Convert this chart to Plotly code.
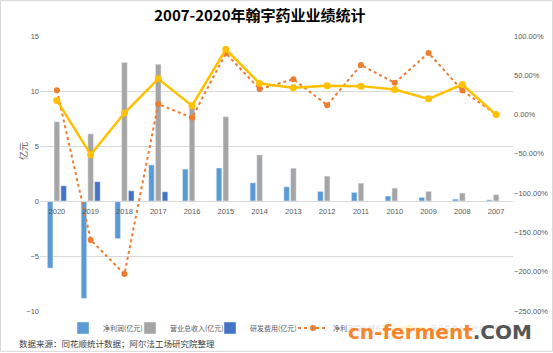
import plotly.graph_objects as go

years = ["2020", "2019", "2018", "2017", "2016", "2015", "2014",
         "2013", "2012", "2011", "2010", "2009", "2008", "2007"]
net_profit = [-6.1, -8.85, -3.42, 3.28, 2.9, 3.0, 1.65, 1.29, 0.87, 0.78, 0.45, 0.33, 0.17, 0.1]
revenue = [7.2, 6.1, 12.6, 12.43, 8.5, 7.66, 4.19, 2.98, 2.26, 1.62, 1.17, 0.87, 0.72, 0.57]
rd_cost = [1.38, 1.75, 0.93, 0.84, None, None, None, None, None, None, None, None, None, None]
net_growth = [31, -159.5, -203, 13.4, -4, 78, 32.4, 45, 12, 63, 40.4, 78.5, 30.7, 0]
rev_growth = [18, -51, 2, 45.5, 11.3, 83, 39.6, 34, 36.6, 36.2, 32, 20, 38.3, 0]

names = ["净利润(亿元)", "营业总收入(亿元)", "研发费用(亿元)", "净利润同比增长率", "营业总收入同比增长率"]

# plot area in pixels: x 40..513, y 36..312
PL, PW, PT, PH = 40, 473, 36, 276
def px(x):
    return (x - PL) / PW
def py(y):
    return (PT + PH - y) / PH

fig = go.Figure()
fig.add_trace(go.Bar(x=years, y=net_profit, name=names[0], marker=dict(color="#5B9BD5"), legend="legend"))
fig.add_trace(go.Bar(x=years, y=revenue, name=names[1], marker=dict(color="#A5A5A5"), legend="legend2"))
fig.add_trace(go.Bar(x=years, y=rd_cost, name=names[2], marker=dict(color="#4472C4"), legend="legend3"))
fig.add_trace(go.Scatter(x=years, y=net_growth, name=names[3], yaxis="y2", mode="lines+markers",
                         line=dict(color="#ED7D31", width=2, dash="dot"),
                         marker=dict(color="#ED7D31", size=6), legend="legend4"))
fig.add_trace(go.Scatter(x=years, y=rev_growth, name=names[4], yaxis="y2", mode="lines+markers",
                         line=dict(color="#FFC000", width=2.5),
                         marker=dict(color="#FFC000", size=7), legend="legend5"))

tick_font = dict(family="Liberation Sans, Arial", size=7.5, color="#595959")
leg_font = dict(family="Noto Sans CJK SC", size=7, color="#595959")
text_starts = [103, 170, 250, 333, 430]

def leg(ts):
    return dict(orientation="h", x=px(ts - 40), xanchor="left", y=py(328), yanchor="middle",
                font=leg_font, bgcolor="rgba(0,0,0,0)", itemwidth=30)

fig.update_layout(
    width=553, height=353,
    margin=dict(l=PL, r=553 - PL - PW, t=PT, b=353 - PT - PH),
    paper_bgcolor="white", plot_bgcolor="white",
    barmode="group", bargap=0.4, bargroupgap=0.18,
    title=dict(text="<b>2007-2020年翰宇药业业绩统计</b>", x=0.47, xanchor="center",
               y=1 - 16 / 353, yanchor="middle",
               font=dict(family="Noto Sans CJK SC, Liberation Sans", size=15, color="#000000")),
    xaxis=dict(type="category", range=[-0.5, len(years) - 0.5], anchor="free", position=0.4,
               showgrid=False, showline=True, linecolor="#D9D9D9", linewidth=1, ticks="",
               ticklabelstandoff=3,
               tickfont=tick_font, domain=[0, 1], automargin=False),
    yaxis=dict(range=[-10, 15], dtick=5, showgrid=True, gridcolor="#D9D9D9", gridwidth=1,
               zeroline=False, tickfont=tick_font, ticks="", showline=False, automargin=False),
    yaxis2=dict(range=[-250, 100], dtick=50, overlaying="y", side="right", showgrid=False,
                zeroline=False, tickformat=".2f", ticksuffix="%", tickfont=tick_font, ticks="",
                automargin=False),
    legend=leg(text_starts[0]),
    legend2=leg(text_starts[1]),
    legend3=leg(text_starts[2]),
    legend4=leg(text_starts[3]),
    legend5=leg(text_starts[4]),
    showlegend=True,
    annotations=[
        dict(text="亿元", textangle=-90, x=px(15), y=py(152),
             xref="paper", yref="paper", showarrow=False,
             font=dict(family="Noto Sans CJK SC", size=9, color="#595959")),
        dict(text="数据来源：同花顺统计数据；阿尔法工场研究院整理", x=px(17),
             y=py(344), xref="paper", yref="paper", xanchor="left", yanchor="middle",
             showarrow=False, font=dict(family="Noto Sans CJK SC", size=8.5, color="#404040")),
        dict(text='<b><span style="color:#F5852A">cn-ferment</span><span style="color:#555555">.COM</span></b>',
             x=px(347), y=py(333), xref="paper", yref="paper",
             xanchor="left", yanchor="middle", showarrow=False,
             bgcolor="rgba(255,255,255,0.8)", borderpad=0,
             font=dict(family="DejaVu Sans", size=20)),
    ],
    shapes=[dict(type="rect", xref="paper", yref="paper",
                 x0=px(0.5), x1=px(552.5), y0=py(352.5), y1=py(0.5),
                 line=dict(color="#D9D9D9", width=1), layer="below")],
)

fig.write_html("out.html")
